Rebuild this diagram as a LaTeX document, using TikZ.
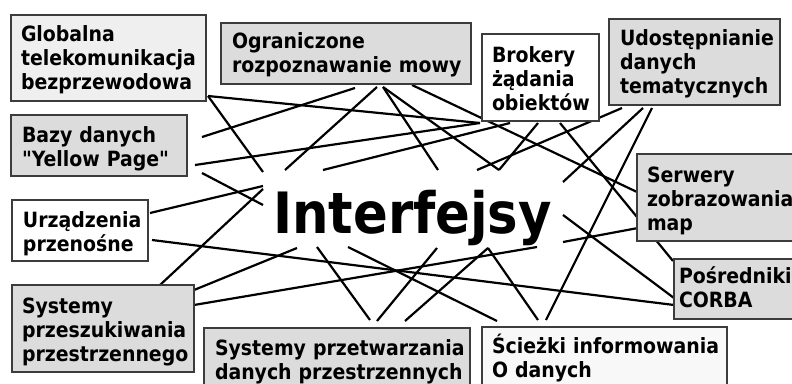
\documentclass[tikz,border=0pt]{standalone}
\usepackage{fontspec}
\IfFontExistsTF{DejaVu Sans Condensed}
  {\setmainfont{DejaVu Sans Condensed}[BoldFont={DejaVu Sans Condensed Bold}]}
  {\setmainfont{DejaVu Sans}}
\pgfdeclarelayer{wires}
\pgfsetlayers{wires,main}
\definecolor{boxline}{HTML}{3C3C3C}
\definecolor{shade}{HTML}{DCDCDC}
\definecolor{paleshade}{HTML}{EFEFEF}
\definecolor{faintshade}{HTML}{F8F8F8}
\begin{document}
\begin{tikzpicture}[x=1pt,y=-1pt,
  box/.style={draw=boxline, line width=1.5pt, anchor=north west, inner ysep=0pt,
    outer sep=0pt, align=left, font=\bfseries\fontsize{21}{24}\selectfont,
    execute at begin node={\hyphenpenalty=10000 \exhyphenpenalty=10000 \hbadness=10000 \hfuzz=20pt}},
  wire/.style={line width=2.2pt, draw=black}]
\useasboundingbox (0,0) rectangle (792,383);

% outer boxes
\node[box, fill=paleshade, inner xsep=10pt, text width=175pt, text height=26.7pt, text depth=59.3pt]
  (glob) at (11,15) {Globalna\\telekomunikacja\\bezprzewodowa};
\node[box, fill=shade, inner xsep=11pt, text width=228pt, text height=25pt, text depth=36pt]
  (ogr) at (221,23) {Ograniczone\\rozpoznawanie~mowy};
\node[box, fill=white, inner xsep=10pt, text width=97pt, text height=28pt, text depth=59pt]
  (brok) at (482,34) {Brokery\\żądania\\obiektów};
\node[box, fill=shade, inner xsep=11pt, text width=149pt, text height=26pt, text depth=60pt]
  (udo) at (609,19) {Udostępnianie\\danych\\tematycznych};
\node[box, fill=shade, inner xsep=11pt, text width=154pt, text height=27pt, text depth=34pt]
  (bazy) at (11,115) {Bazy~danych\\\textquotedbl Yellow~Page\textquotedbl};
\node[box, fill=white, inner xsep=11pt, text width=114pt, text height=27pt, text depth=34pt]
  (urz) at (12,200) {Urządzenia\\przenośne};
\node[box, fill=shade, inner xsep=10pt, text width=162pt, text height=28pt, text depth=59pt]
  (szuk) at (12,285) {Systemy\\przeszukiwania\\przestrzennego};
\node[box, fill=shade, inner xsep=11pt, text width=244pt, text height=27pt, text depth=45pt]
  (przetw) at (204,328) {\mbox{Systemy przetwarzania}\\\mbox{danych przestrzennych}};
\node[box, fill=faintshade, inner xsep=10pt, text width=225pt, text height=26pt, text depth=47pt]
  (sciez) at (482,327) {\mbox{Ścieżki informowania}\\\mbox{O danych}};
\node[box, fill=shade, inner xsep=10pt, text width=163pt, text height=28pt, text depth=59pt]
  (serw) at (637,154) {Serwery\\zobrazowania\\map};
\node[box, fill=shade, inner xsep=5pt, text width=136pt, text height=24pt, text depth=36pt]
  (posr) at (674,259) {Pośredniki\\CORBA};

% central label
\node[font=\bfseries\fontsize{57}{62}\selectfont, inner sep=0pt, anchor=base west]
  (iface) at (273,233) {Interfejsy};

% loose ends around the central label
\coordinate (c1)  at ([shift={(-10,-61)}]iface.base west);
\coordinate (c2)  at ([shift={(-10,-28)}]iface.base west);
\coordinate (c3)  at ([shift={(-10,-47)}]iface.base west);
\coordinate (c4)  at ([shift={(-10,-44)}]iface.base west);
\coordinate (c5)  at ([shift={(24,15)}]iface.base west);
\coordinate (c6)  at ([shift={(264,14)}]iface.base west);
\coordinate (c7)  at ([shift={(12,-63)}]iface.base west);
\coordinate (c8)  at ([shift={(165,-63)}]iface.base west);
\coordinate (c9)  at ([shift={(226,-63)}]iface.base west);
\coordinate (c10) at ([shift={(50,-63)}]iface.base west);
\coordinate (c11) at ([shift={(204,-63)}]iface.base west);
\coordinate (c12) at ([shift={(290,-51)}]iface.base west);
\coordinate (c13) at ([shift={(290,9)}]iface.base west);
\coordinate (c14) at ([shift={(290,-18)}]iface.base west);
\coordinate (c15) at ([shift={(75,14)}]iface.base west);
\coordinate (c16) at ([shift={(44,14)}]iface.base west);
\coordinate (c17) at ([shift={(164,15)}]iface.base west);
\coordinate (c18) at ([shift={(215,15)}]iface.base west);

% connectors, kept underneath the boxes
\begin{pgfonlayer}{wires}
\draw[wire] ([shift={(2,-5)}]glob.south east) -- (c1);
\draw[wire] ([shift={(2,-5)}]glob.south east) -- ([shift={(-2,2)}]brok.south west);
\draw[wire] ([shift={(15,-8.5)}]bazy.east) -- ([shift={(9,4)}]ogr.south);
\draw[wire] ([shift={(8,19.5)}]bazy.east) -- ([shift={(-2,2)}]brok.south west);
\draw[wire] ([shift={(15,27.5)}]bazy.east) -- (c2);
\draw[wire] ([shift={(2,-17.5)}]urz.east) -- (c3);
\draw[wire] ([shift={(4,9.5)}]urz.east) -- ([shift={(0,46)}]posr.north west);
\draw[wire] ([shift={(-34,0)}]szuk.north east) -- (c4);
\draw[wire] ([shift={(0,5)}]szuk.north east) -- (c5);
\draw[wire] ([shift={(0,20)}]szuk.north east) -- (c6);
\draw[wire] ([shift={(31,3)}]ogr.south) -- (c7);
\draw[wire] ([shift={(37,3)}]ogr.south) -- (c8);
\draw[wire] ([shift={(37,3)}]ogr.south) -- (c9);
\draw[wire] ([shift={(66,1)}]ogr.south) -- ([shift={(0,38)}]serw.north west);
\draw[wire] (c10) -- ([shift={(28,2)}]brok.south west);
\draw[wire] ([shift={(56,2)}]brok.south west) -- (c9);
\draw[wire] ([shift={(78,2)}]brok.south west) -- ([shift={(-1,2)}]posr.north west);
\draw[wire] ([shift={(13,3)}]udo.south west) -- (c11);
\draw[wire] ([shift={(34,3)}]udo.south west) -- (c12);
\draw[wire] ([shift={(43,3)}]udo.south west) -- ([shift={(64,-7)}]sciez.north west);
\draw[wire] (c13) -- ([shift={(1,74)}]serw.north west);
\draw[wire] (c14) -- ([shift={(0,39)}]posr.north west);
\draw[wire] (c15) -- ([shift={(15,-6)}]sciez.north west);
\draw[wire] (c16) -- ([shift={(166,-8)}]przetw.north west);
\draw[wire] (c17) -- ([shift={(173,-7)}]przetw.north west);
\draw[wire] (c18) -- ([shift={(201,-7)}]przetw.north west);
\draw[wire] (c18) -- ([shift={(56,-7)}]sciez.north west);
\end{pgfonlayer}
\end{tikzpicture}
\end{document}
